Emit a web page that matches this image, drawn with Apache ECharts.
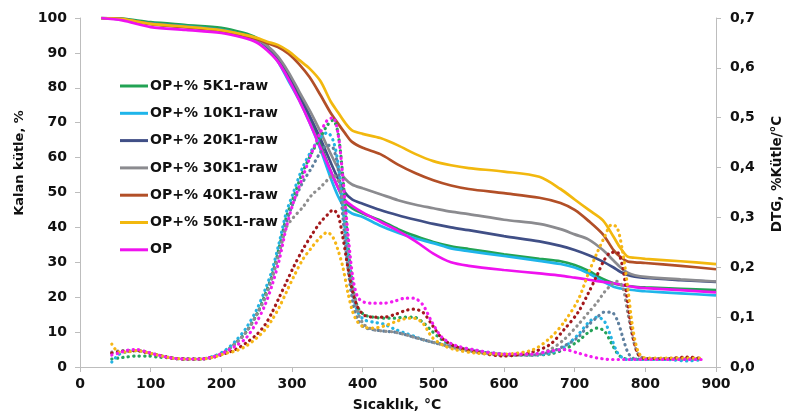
<!DOCTYPE html>
<html>
<head>
<meta charset="utf-8">
<script src="https://cdn.jsdelivr.net/npm/echarts/dist/echarts.min.js"></script>
<style>
html,body{margin:0;padding:0;background:#fff;}
#chart{width:785px;height:416px;}
</style>
</head>
<body>
<div id="chart"></div>
<script>
// ---- Data ----
const seriesNames = ['OP+% 5K1-raw','OP+% 10K1-raw','OP+% 20K1-raw','OP+% 30K1-raw','OP+% 40K1-raw','OP+% 50K1-raw','OP'];

// TG (left axis, Kalan kütle %)
const tgTemps = [30, 60, 100, 150, 200, 230, 250, 265, 280, 295, 310, 325, 340, 355, 365, 375, 385, 400, 425, 450, 475, 500, 525, 550, 600, 650, 680, 700, 720, 740, 755, 765, 775, 785, 800, 850, 900];
const tg5K1  = [100, 99.8, 98.8, 98, 97.2, 95.8, 94.3, 92, 88.5, 83, 77.5, 71, 64, 56, 51.5, 47.5, 45.5, 44, 42, 39.5, 37.5, 35.8, 34.6, 33.8, 32.3, 31, 30.3, 29.2, 27.5, 25.2, 24, 23.5, 23.2, 23, 22.8, 22.4, 22];
const tg10K1 = [100, 99.6, 98.4, 97.6, 96.6, 95.2, 93.8, 91.5, 87.5, 82, 76.5, 70, 62.5, 54, 49, 45.5, 44, 43, 40.5, 38.5, 36.8, 35.5, 34, 33.2, 31.8, 30.4, 29.5, 28.5, 26.8, 24.5, 23, 22.5, 22.2, 22, 21.7, 21.1, 20.5];
const tg20K1 = [100, 99.6, 98.4, 97.5, 96.5, 95.2, 93.8, 91.8, 88.5, 83.5, 78, 72, 65.5, 58.5, 54, 50, 48, 46.8, 45, 43.5, 42.2, 41, 40, 39.2, 37.5, 36, 34.7, 33.5, 32, 30.2, 28.5, 27.2, 26.4, 25.9, 25.5, 24.9, 24.4];
const tg30K1 = [100, 99.6, 98.4, 97.5, 96.5, 95.2, 93.8, 92, 89, 84.5, 79, 73.5, 67.5, 61, 57, 54, 52.3, 51.2, 49.5, 47.8, 46.5, 45.5, 44.5, 43.8, 42.2, 41, 39.5, 38, 36.5, 33.5, 30.5, 28.5, 27, 26.3, 25.8, 25.1, 24.5];
const tg40K1 = [100, 99.7, 98.2, 97.3, 96.3, 95, 94, 92.8, 91.7, 89.8, 86.8, 83, 78, 72.7, 69.8, 67, 64.5, 62.8, 61, 58, 55.5, 53.5, 52, 51, 49.8, 48.5, 47, 45, 41.8, 38, 33.5, 31.5, 30.2, 30, 29.8, 29, 28];
const tg50K1 = [100, 99.7, 98.3, 97.5, 96.5, 95.3, 94.3, 93.2, 92.3, 90.5, 88, 85.5, 82, 76, 73, 70, 67.8, 66.8, 65.6, 63.5, 61, 59, 57.8, 57, 56, 54.5, 51, 48, 45, 42, 37.3, 34, 31.6, 31.3, 31, 30.3, 29.5];
const tgOP   = [100, 99.3, 97.4, 96.6, 95.7, 94.4, 93, 90.7, 87.5, 82.5, 76.5, 70, 63, 56, 51.5, 47.8, 46.2, 44.3, 41.6, 39, 36, 32.5, 30, 29, 27.8, 26.8, 26.2, 25.6, 25, 24.4, 24, 23.6, 23.2, 22.9, 22.6, 22, 21.4];

// DTG (right axis, %Kütle/°C)
const dtgTemps = [45, 55, 65, 80, 95, 110, 130, 150, 170, 190, 205, 220, 235, 250, 262, 272, 282, 292, 302, 315, 328, 340, 350, 358, 365, 372, 379, 386, 393, 402, 415, 430, 445, 460, 472, 485, 498, 512, 530, 560, 600, 640, 665, 685, 705, 720, 732, 742, 752, 760, 768, 775, 782, 790, 800, 830, 860, 880];
const dtg5K1  = [0.016, 0.018, 0.02, 0.022, 0.022, 0.02, 0.018, 0.016, 0.016, 0.021, 0.03, 0.048, 0.07, 0.105, 0.145, 0.185, 0.24, 0.3, 0.34, 0.39, 0.43, 0.46, 0.485, 0.495, 0.47, 0.38, 0.25, 0.16, 0.12, 0.105, 0.1, 0.098, 0.098, 0.1, 0.1, 0.09, 0.072, 0.055, 0.042, 0.032, 0.025, 0.024, 0.026, 0.035, 0.052, 0.07, 0.078, 0.072, 0.048, 0.028, 0.018, 0.016, 0.016, 0.016, 0.016, 0.016, 0.016, 0.016];
const dtg10K1 = [0.01, 0.025, 0.03, 0.033, 0.029, 0.024, 0.018, 0.016, 0.016, 0.022, 0.033, 0.052, 0.078, 0.115, 0.155, 0.195, 0.25, 0.31, 0.35, 0.4, 0.435, 0.46, 0.47, 0.455, 0.41, 0.32, 0.22, 0.15, 0.11, 0.095, 0.09, 0.086, 0.076, 0.068, 0.062, 0.055, 0.05, 0.046, 0.04, 0.033, 0.026, 0.024, 0.028, 0.04, 0.065, 0.09, 0.1, 0.092, 0.058, 0.03, 0.018, 0.015, 0.015, 0.015, 0.015, 0.015, 0.012, 0.015];
const dtg20K1 = [0.028, 0.03, 0.032, 0.033, 0.029, 0.024, 0.018, 0.016, 0.016, 0.021, 0.03, 0.047, 0.07, 0.105, 0.14, 0.18, 0.23, 0.29, 0.33, 0.37, 0.4, 0.43, 0.445, 0.44, 0.4, 0.3, 0.2, 0.13, 0.095, 0.08, 0.075, 0.072, 0.07, 0.065, 0.06, 0.055, 0.05, 0.045, 0.04, 0.032, 0.025, 0.024, 0.03, 0.042, 0.06, 0.085, 0.1, 0.11, 0.11, 0.095, 0.06, 0.03, 0.018, 0.016, 0.016, 0.016, 0.016, 0.016];
const dtg30K1 = [0.03, 0.032, 0.033, 0.033, 0.029, 0.024, 0.018, 0.016, 0.016, 0.021, 0.03, 0.047, 0.07, 0.105, 0.14, 0.18, 0.23, 0.28, 0.3, 0.32, 0.345, 0.36, 0.375, 0.385, 0.375, 0.33, 0.25, 0.17, 0.11, 0.085, 0.075, 0.072, 0.07, 0.065, 0.06, 0.055, 0.05, 0.045, 0.038, 0.03, 0.024, 0.024, 0.035, 0.055, 0.085, 0.11, 0.13, 0.15, 0.165, 0.172, 0.16, 0.11, 0.06, 0.025, 0.017, 0.017, 0.017, 0.017];
const dtg40K1 = [0.028, 0.03, 0.032, 0.033, 0.029, 0.024, 0.018, 0.016, 0.016, 0.02, 0.027, 0.035, 0.048, 0.065, 0.085, 0.11, 0.14, 0.17, 0.2, 0.235, 0.265, 0.29, 0.305, 0.315, 0.305, 0.26, 0.2, 0.15, 0.12, 0.104, 0.1, 0.1, 0.105, 0.113, 0.116, 0.11, 0.085, 0.058, 0.042, 0.03, 0.022, 0.03, 0.045, 0.075, 0.11, 0.15, 0.185, 0.215, 0.23, 0.23, 0.2, 0.13, 0.065, 0.025, 0.017, 0.017, 0.02, 0.017];
const dtg50K1 = [0.046, 0.03, 0.03, 0.033, 0.029, 0.024, 0.018, 0.016, 0.016, 0.02, 0.027, 0.032, 0.042, 0.058, 0.075, 0.095, 0.12, 0.15, 0.18, 0.215, 0.24, 0.26, 0.27, 0.26, 0.235, 0.2, 0.15, 0.11, 0.09, 0.08, 0.078, 0.082, 0.09, 0.097, 0.098, 0.088, 0.06, 0.045, 0.035, 0.028, 0.026, 0.034, 0.058, 0.09, 0.135, 0.19, 0.23, 0.26, 0.285, 0.28, 0.23, 0.16, 0.08, 0.03, 0.018, 0.018, 0.018, 0.018];
const dtgOP   = [0.024, 0.028, 0.033, 0.035, 0.03, 0.024, 0.018, 0.016, 0.016, 0.021, 0.03, 0.042, 0.058, 0.09, 0.125, 0.165, 0.215, 0.28, 0.33, 0.38, 0.43, 0.47, 0.495, 0.5, 0.47, 0.38, 0.27, 0.18, 0.14, 0.13, 0.128, 0.128, 0.132, 0.138, 0.138, 0.125, 0.09, 0.06, 0.044, 0.034, 0.026, 0.026, 0.032, 0.035, 0.028, 0.022, 0.018, 0.016, 0.015, 0.015, 0.015, 0.015, 0.015, 0.015, 0.015, 0.015, 0.015, 0.015];

// Axis ticks
const xTicks = {min: 0, max: 900, interval: 100};
const yLeftTicks = {min: 0, max: 100, interval: 10};
const yRightTicks = {min: 0, max: 0.7, interval: 0.1};

// ---- Styling ----
const tgColors  = ['#22a354', '#1fb5ea', '#404f86', '#8b8b8f', '#b24f27', '#f2b80e', '#ef12ef'];
const dtgColors = ['#26a35a', '#25b3e3', '#5f809f', '#8e8e8e', '#a3191c', '#f6b616', '#f21cf0'];
const FONT = '"DejaVu Sans", "Liberation Sans", Arial, sans-serif';

const tgSets = [tg5K1, tg10K1, tg20K1, tg30K1, tg40K1, tg50K1, tgOP];
const dtgSets = [dtg5K1, dtg10K1, dtg20K1, dtg30K1, dtg40K1, dtg50K1, dtgOP];

const series = [];
dtgSets.forEach((arr, i) => {
  series.push({
    name: 'DTG ' + seriesNames[i],
    type: 'line',
    yAxisIndex: 1,
    data: dtgTemps.map((t, k) => [t, arr[k]]),
    symbol: 'none',
    smooth: 0.3,
    lineStyle: {color: dtgColors[i], width: 3.2, type: [0.3, 5.2], cap: 'round'},
    z: 3
  });
});
tgSets.forEach((arr, i) => {
  series.push({
    name: seriesNames[i],
    type: 'line',
    yAxisIndex: 0,
    data: tgTemps.map((t, k) => [t, arr[k]]),
    symbol: 'none',
    smooth: 0.3,
    itemStyle: {color: tgColors[i]},
    lineStyle: {color: tgColors[i], width: 2.7},
    z: 2
  });
});

const axisLabelStyle = {color: '#111', fontFamily: FONT, fontWeight: 'bold', fontSize: 14};

const chart = echarts.init(document.getElementById('chart'), null, {renderer: 'canvas'});
chart.setOption({
  animation: false,
  backgroundColor: '#ffffff',
  grid: {left: 80, right: 69, top: 18, bottom: 49, containLabel: false},
  legend: {
    data: seriesNames,
    orient: 'vertical',
    left: 120,
    top: 79,
    padding: 0,
    icon: 'path://M0,0L28,0L28,3L0,3Z',
    symbolKeepAspect: true,
    itemWidth: 28,
    itemHeight: 14,
    itemGap: 13.3,
    textStyle: {color: '#111', fontFamily: FONT, fontWeight: 'bold', fontSize: 14, padding: [0, 0, 0, -3]},
    selectedMode: false
  },
  xAxis: {
    type: 'value',
    min: xTicks.min, max: xTicks.max, interval: xTicks.interval,
    axisLine: {lineStyle: {color: '#bdbdbd', width: 1}},
    axisTick: {show: true, length: 5, lineStyle: {color: '#bdbdbd'}},
    splitLine: {show: false},
    axisLabel: Object.assign({margin: 10}, axisLabelStyle)
  },
  yAxis: [
    {
      type: 'value',
      min: yLeftTicks.min, max: yLeftTicks.max, interval: yLeftTicks.interval,
      axisLine: {show: true, lineStyle: {color: '#bdbdbd', width: 1}},
      axisTick: {show: true, length: 5, lineStyle: {color: '#bdbdbd'}},
      splitLine: {show: false},
      axisLabel: Object.assign({margin: 13}, axisLabelStyle)
    },
    {
      type: 'value',
      position: 'right',
      min: yRightTicks.min, max: yRightTicks.max, interval: yRightTicks.interval,
      axisLine: {show: true, lineStyle: {color: '#bdbdbd', width: 1}},
      axisTick: {show: true, length: 5, lineStyle: {color: '#bdbdbd'}},
      splitLine: {show: false},
      axisLabel: Object.assign({margin: 14, formatter: v => v.toFixed(1).replace('.', ',')}, axisLabelStyle)
    }
  ],
  graphic: [
    {type: 'text', x: 20, y: 163, rotation: Math.PI / 2,
     style: {text: 'Kalan kütle, %', fill: '#111', font: 'bold 13px ' + FONT, align: 'center', verticalAlign: 'middle'}},
    {type: 'text', x: 777, y: 174, rotation: Math.PI / 2,
     style: {text: 'DTG, %Kütle/°C', fill: '#111', font: 'bold 13.5px ' + FONT, align: 'center', verticalAlign: 'middle'}},
    {type: 'text', x: 397, y: 405,
     style: {text: 'Sıcaklık, °C', fill: '#111', font: 'bold 14px ' + FONT, align: 'center', verticalAlign: 'middle'}}
  ],
  series: series
});
</script>
</body>
</html>
